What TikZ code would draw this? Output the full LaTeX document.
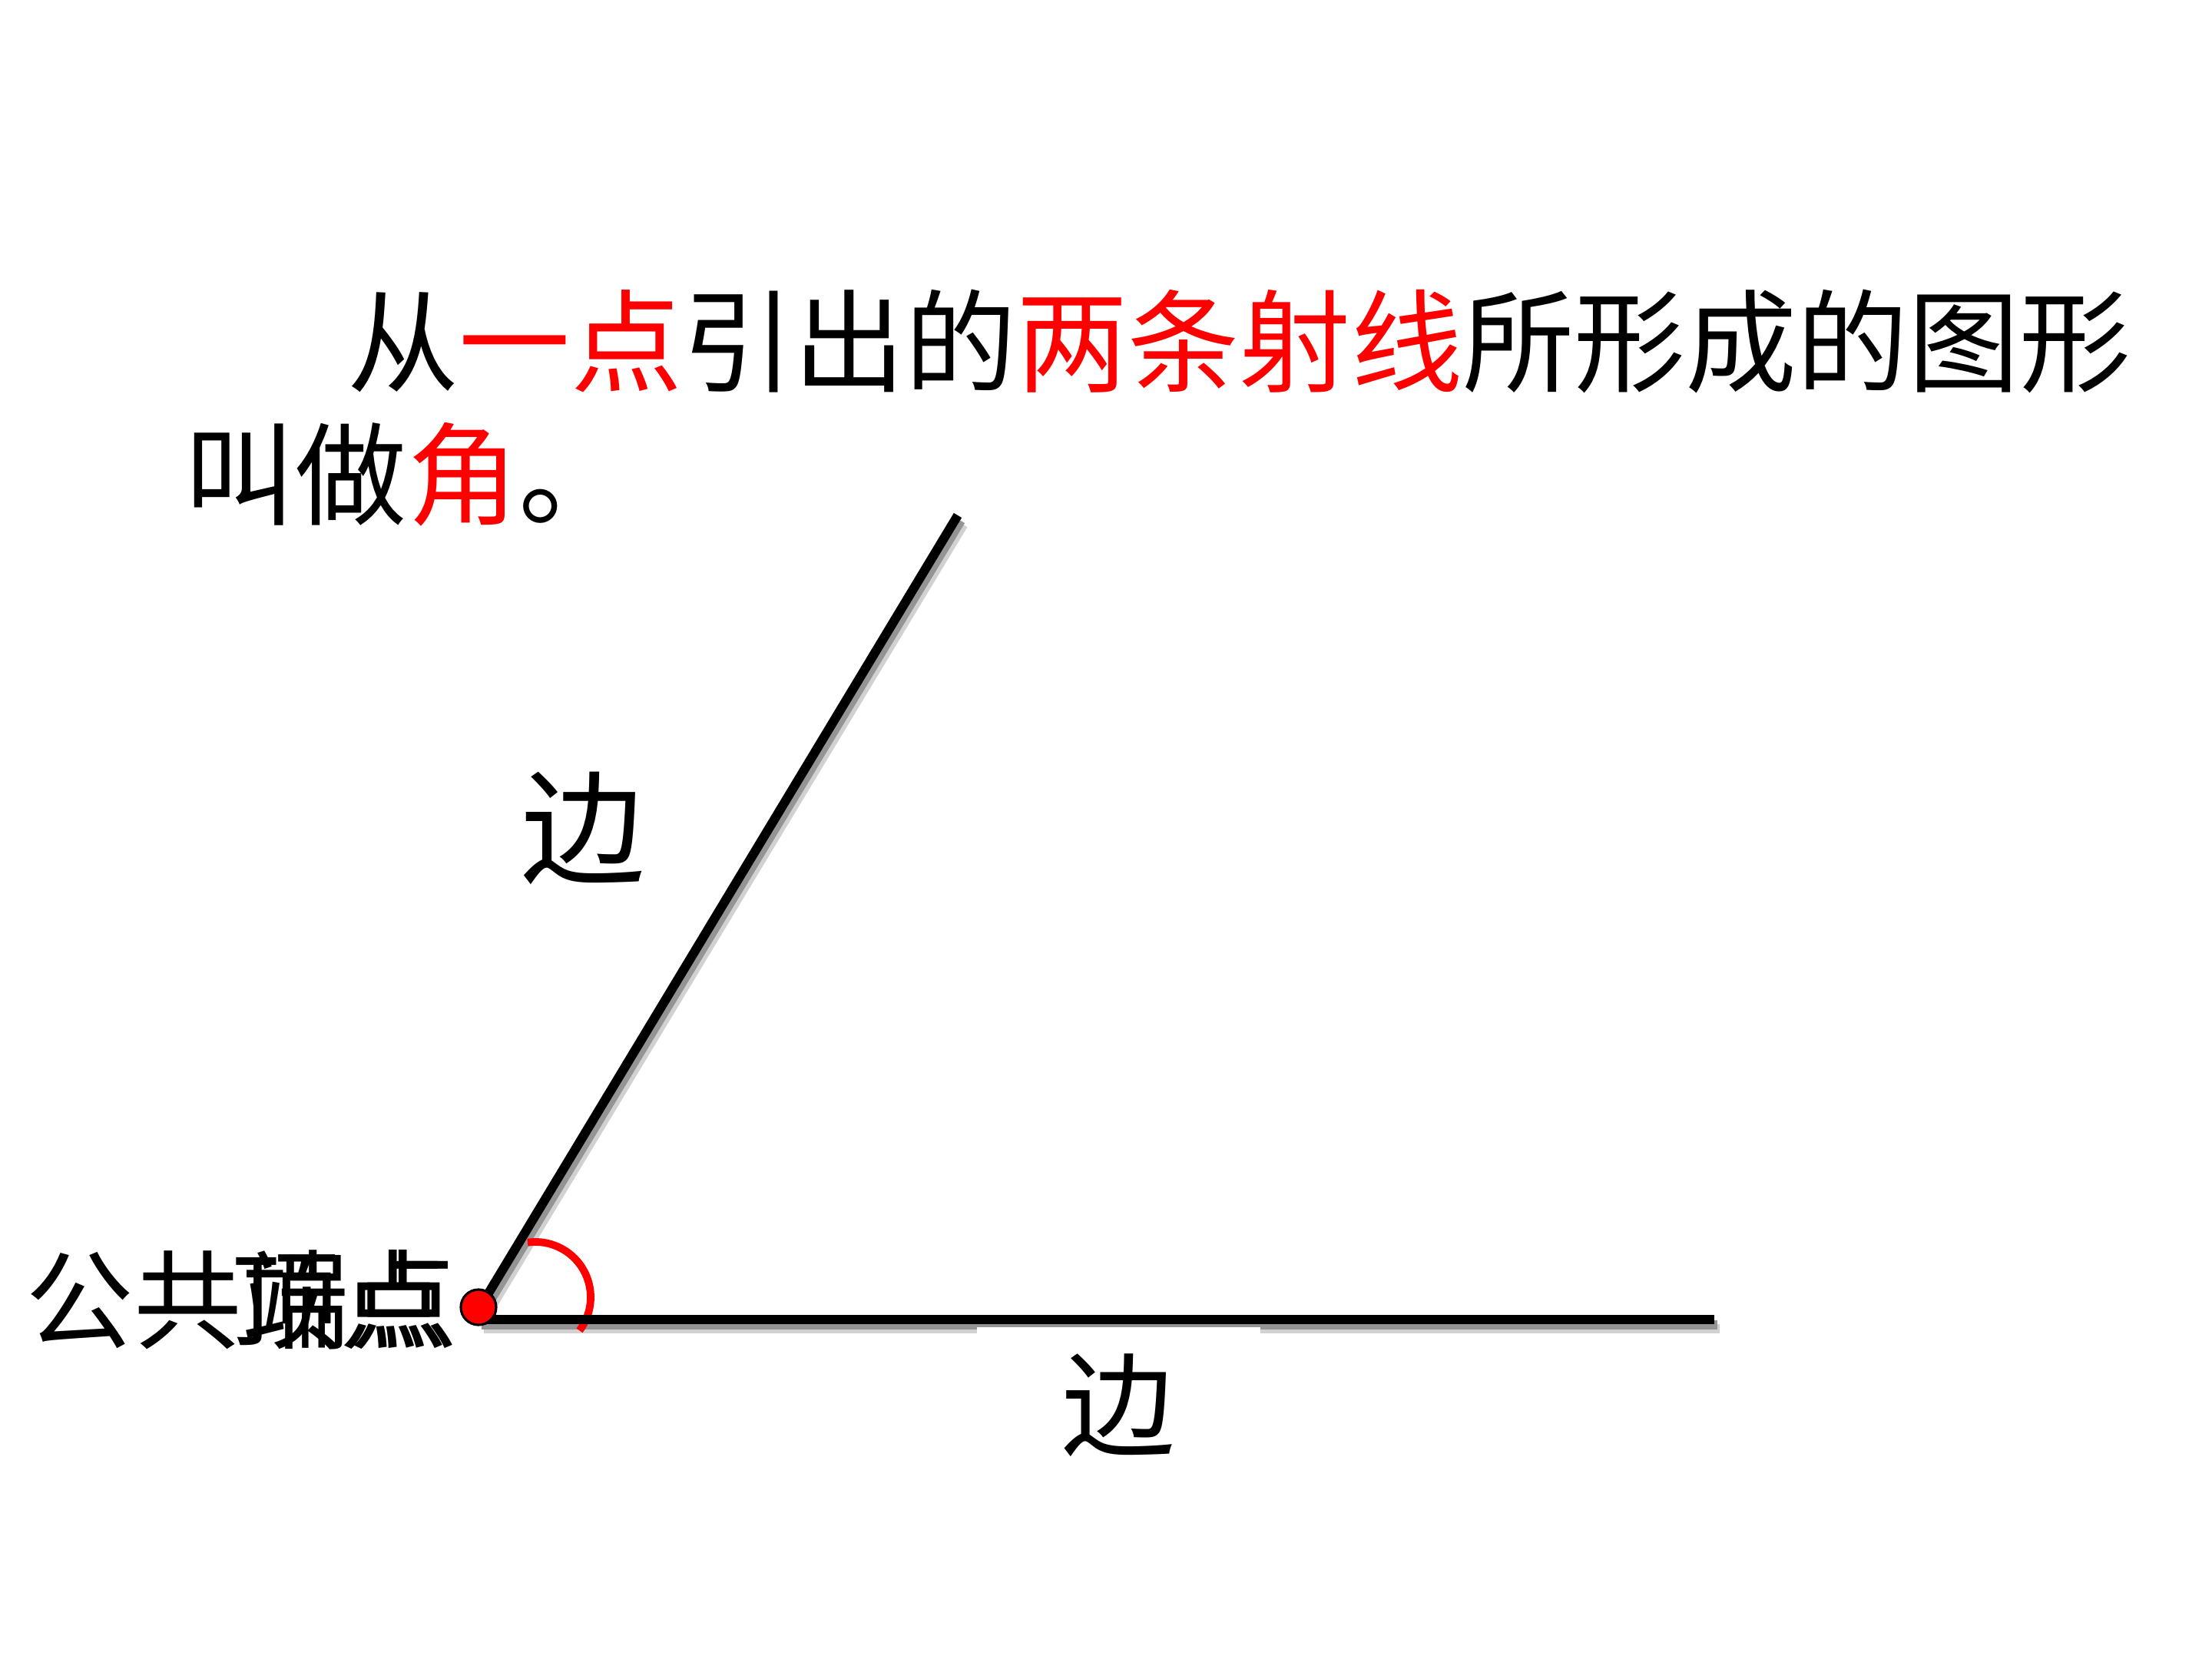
\documentclass[tikz,border=0pt]{standalone}
\usepackage{fontspec}
\newfontfamily\cjk{Noto Sans CJK SC}
\usetikzlibrary{calc}
\definecolor{pptred}{RGB}{255,0,0}
\tikzset{
  titletext/.style={font=\cjk\fontsize{41.3pt}{50pt}\selectfont, inner sep=0pt, anchor=base west},
  vtxtext/.style={font=\cjk\fontsize{40pt}{48pt}\selectfont, inner sep=0pt, anchor=base west},
  sidetext/.style={inner sep=0pt, anchor=center},
  arm/.style={line width=3.4pt, line cap=butt, black},
  armshadowA/.style={line width=3.6pt, line cap=butt, black!18},
  armshadowB/.style={line width=3.4pt, line cap=butt, black!42},
  anglemark/.style={line width=2.8pt, pptred},
  vertexdot/.style={circle, fill=pptred, draw=black, line width=0.9pt, minimum size=0.46cm, inner sep=0pt}
}
\begin{document}
\begin{tikzpicture}[x=1cm,y=-1cm]
\useasboundingbox[fill=white] (0,0) rectangle (28.8,21.6);

% key points
\coordinate (V) at (6.25,17.02);
\coordinate (R) at (12.47,6.71);
\coordinate (H0) at (6.23,17.18);
\coordinate (H1) at (22.32,17.18);

% shadows
\draw[armshadowA] ($(V)+(0.07,0.12)$) -- ($(R)+(0.07,0.12)$);
\draw[armshadowA] ($(H0)+(0.07,0.12)$) -- ($(H1)+(0.07,0.12)$);
\draw[armshadowB] ($(V)+(0.04,0.07)$) -- ($(R)+(0.04,0.07)$);
\draw[armshadowB] ($(H0)+(0.04,0.07)$) -- ($(H1)+(0.04,0.07)$);

% lower label with white box
\node[sidetext, fill=white, minimum width=3.69cm, minimum height=2.04cm,
      font=\cjk\fontsize{42pt}{48pt}\selectfont] (bianB) at (14.565,18.30) {边};

% angle mark
\draw[anglemark] (6.97,16.89) ++(-98:0.72) arc[start angle=-98, end angle=37, radius=0.72];

% arms
\draw[arm] (V) -- (R);
\draw[arm] (H0) -- (H1);

% vertex
\node[vertexdot] (dot) at (6.23,17.02) {};

% upper label
\node[sidetext, font=\cjk\fontsize{46pt}{52pt}\selectfont] (bianA) at (7.59,10.78) {边};

% vertex label (two overlapping texts, as in the reference)
\node[vtxtext] (pub) at (0.33,17.45) {公共端点};
\node[vtxtext] (ding) at (3.01,17.45) {顶点};

% title
\node[titletext] (l1) at (4.52,5.00) {从\textcolor{pptred}{一点}引出的\textcolor{pptred}{两条射线}所形成的图形};
\node[titletext] (l2) at (2.39,6.73) {叫做\textcolor{pptred}{角}。};
\end{tikzpicture}
\end{document}
